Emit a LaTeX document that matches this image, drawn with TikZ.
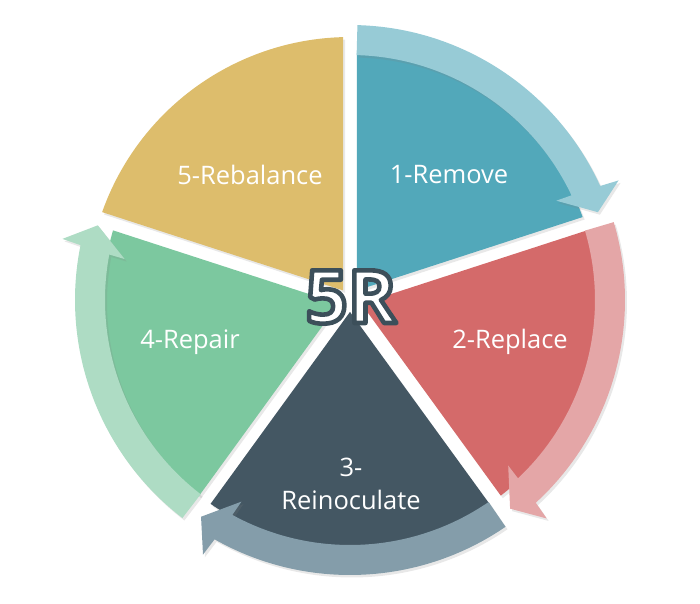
\documentclass[tikz,border=0pt]{standalone}
\usepackage{fontspec}
\setsansfont{Open Sans}
\usetikzlibrary{shadows}
\definecolor{segblue}{HTML}{52A8BA}
\definecolor{segred}{HTML}{D46A6A}
\definecolor{segdark}{HTML}{445763}
\definecolor{seggreen}{HTML}{7CC89F}
\definecolor{segyellow}{HTML}{DDBD6C}
\definecolor{arrblue}{HTML}{97CBD6}
\definecolor{arrred}{HTML}{E4A6A7}
\definecolor{arrdark}{HTML}{849DAA}
\definecolor{arrgreen}{HTML}{AEDCC4}
% outlined text: fill then stroke, stroke in the ring colour
\newcommand\ringtext[1]{%
  \special{pdf:literal direct 2 Tr 2.6 w 1 j 0.235 0.31 0.353 RG}#1%
  \special{pdf:literal direct 0 Tr}}
\tikzset{
  every picture/.style={font={\sffamily\normalsize}},
  seg/.style={drop shadow={opacity=0.18, shadow xshift=0.04cm, shadow yshift=-0.05cm}},
  lbl/.style={text=white, font=\sffamily\fontsize{14.5}{19}\selectfont, align=center}}

\begin{document}
\begin{tikzpicture}
  \useasboundingbox (-7,-6.06) rectangle (7,6);
  % sectors, each from angle \b down to \b-72
  \foreach \b/\col/\r in {90/segblue/4.94, 18/segred/4.94, -54/segdark/4.94,
                          -126/seggreen/4.94, 162/segyellow/5.26}{
    \pgfmathsetmacro\d{asin(0.14/\r)}
    \fill[\col, seg] (\b-36:0.238) -- (\b-\d:\r)
      arc[start angle=\b-\d, end angle=\b-72+\d, radius=\r] -- cycle;
  }
  % curved arrows, clockwise
  \foreach \s/\col in {90/arrblue, 18/arrred, -54/arrdark, -126/arrgreen}{
    \pgfmathsetmacro\e{\s-72}
    \fill[\col, seg] (\s-1.55:5.5)
      arc[start angle=\s-1.55, end angle=\e+6.5, radius=5.5]
      -- (\e+6:5.88) -- (\e+1.5:5.26) -- (\e+7.7:4.58) -- (\e+7.3:4.9)
      arc[start angle=\e+7.3, end angle=\s-1.55, radius=4.9] -- cycle;
  }
  \node[lbl] (remove) at (1.98,2.5) {1-Remove};
  \node[lbl] (replace) at (3.2,-0.84) {2-Replace};
  \node[lbl] (reinoculate) at (0.02,-3.68) {3-\\Reinoculate};
  \node[lbl] (repair) at (-3.2,-0.84) {4-Repair};
  \node[lbl] (rebalance) at (-2.0,2.5) {5-Rebalance};
  \node[text=white, font=\sffamily\bfseries\fontsize{42}{42}\selectfont] (fiver) at (0.02,0.06)
    {\ringtext{5R}};
\end{tikzpicture}
\end{document}
